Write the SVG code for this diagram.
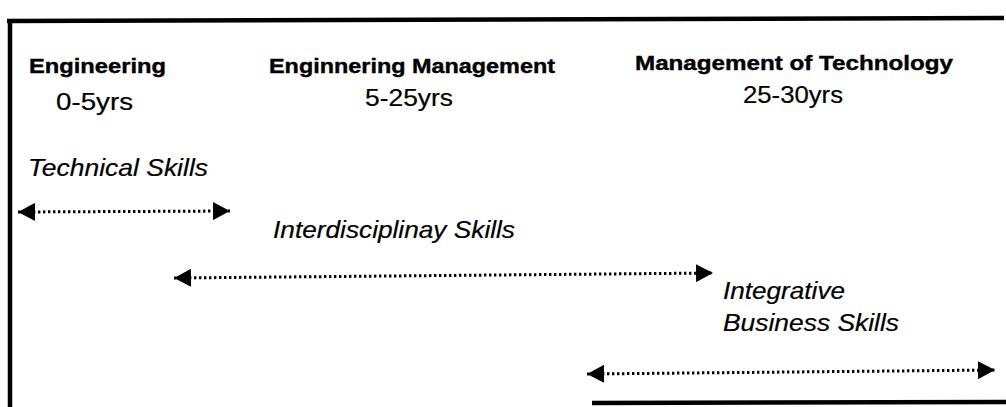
<svg xmlns="http://www.w3.org/2000/svg" width="1006" height="407" viewBox="0 0 1006 407">
  <style>
    .frame { stroke: #000; stroke-width: 4.5; fill: none; }
    .head { font-family: "Liberation Sans", Arial, sans-serif; font-weight: bold; font-size: 21px; fill: #000; stroke: #000; stroke-width: 0.4; }
    .years { font-family: "Liberation Sans", Arial, sans-serif; font-size: 23px; fill: #000; stroke: #000; stroke-width: 0.2; }
    .skill { font-family: "Liberation Sans", Arial, sans-serif; font-style: italic; font-size: 23px; fill: #000; stroke: #000; stroke-width: 0.2; }
    .span { stroke: #000; stroke-width: 3; stroke-dasharray: 2.4 2.6; fill: none; }
  </style>
  <defs>
    <marker id="tip" viewBox="0 0 17 18" refX="17" refY="9" markerWidth="17" markerHeight="18" markerUnits="userSpaceOnUse" orient="auto-start-reverse">
      <path d="M0,0 L17,9 L0,18 Z" fill="#000"/>
    </marker>
  </defs>
  <rect width="1006" height="407" fill="#fff"/>

  <!-- open frame: top, left and part of bottom edge -->
  <g id="frame">
    <line class="frame" x1="7" y1="21" x2="1004" y2="18"/>
    <line class="frame" x1="10" y1="19" x2="10" y2="407"/>
    <line class="frame" x1="592" y1="403" x2="1006" y2="402"/>
  </g>

  <!-- career phases -->
  <g id="phase-engineering">
    <text class="head" x="29" y="73" textLength="137" lengthAdjust="spacingAndGlyphs">Engineering</text>
    <text class="years" x="56" y="110" textLength="77" lengthAdjust="spacingAndGlyphs">0-5yrs</text>
  </g>
  <g id="phase-eng-management">
    <text class="head" x="269" y="73" textLength="286" lengthAdjust="spacingAndGlyphs">Enginnering Management</text>
    <text class="years" x="365" y="106" textLength="88" lengthAdjust="spacingAndGlyphs">5-25yrs</text>
  </g>
  <g id="phase-mot">
    <text class="head" x="635" y="70" textLength="318" lengthAdjust="spacingAndGlyphs">Management of Technology</text>
    <text class="years" x="743" y="103" textLength="100" lengthAdjust="spacingAndGlyphs">25-30yrs</text>
  </g>

  <!-- skill sets -->
  <g id="skill-technical">
    <text class="skill" x="28" y="176" textLength="180" lengthAdjust="spacingAndGlyphs">Technical Skills</text>
  </g>
  <g id="skill-interdisciplinary">
    <text class="skill" x="273" y="238" textLength="242" lengthAdjust="spacingAndGlyphs">Interdisciplinay Skills</text>
  </g>
  <g id="skill-integrative">
    <text class="skill" x="723" y="299" textLength="122" lengthAdjust="spacingAndGlyphs">Integrative</text>
    <text class="skill" x="723" y="331" textLength="176" lengthAdjust="spacingAndGlyphs">Business Skills</text>
  </g>

  <!-- span arrows -->
  <g id="connectors">
    <line class="span" x1="18" y1="212" x2="230" y2="211" marker-start="url(#tip)" marker-end="url(#tip)"/>
    <line class="span" x1="174" y1="278" x2="713" y2="273" marker-start="url(#tip)" marker-end="url(#tip)"/>
    <line class="span" x1="587" y1="374" x2="995" y2="370" marker-start="url(#tip)" marker-end="url(#tip)"/>
  </g>
</svg>
